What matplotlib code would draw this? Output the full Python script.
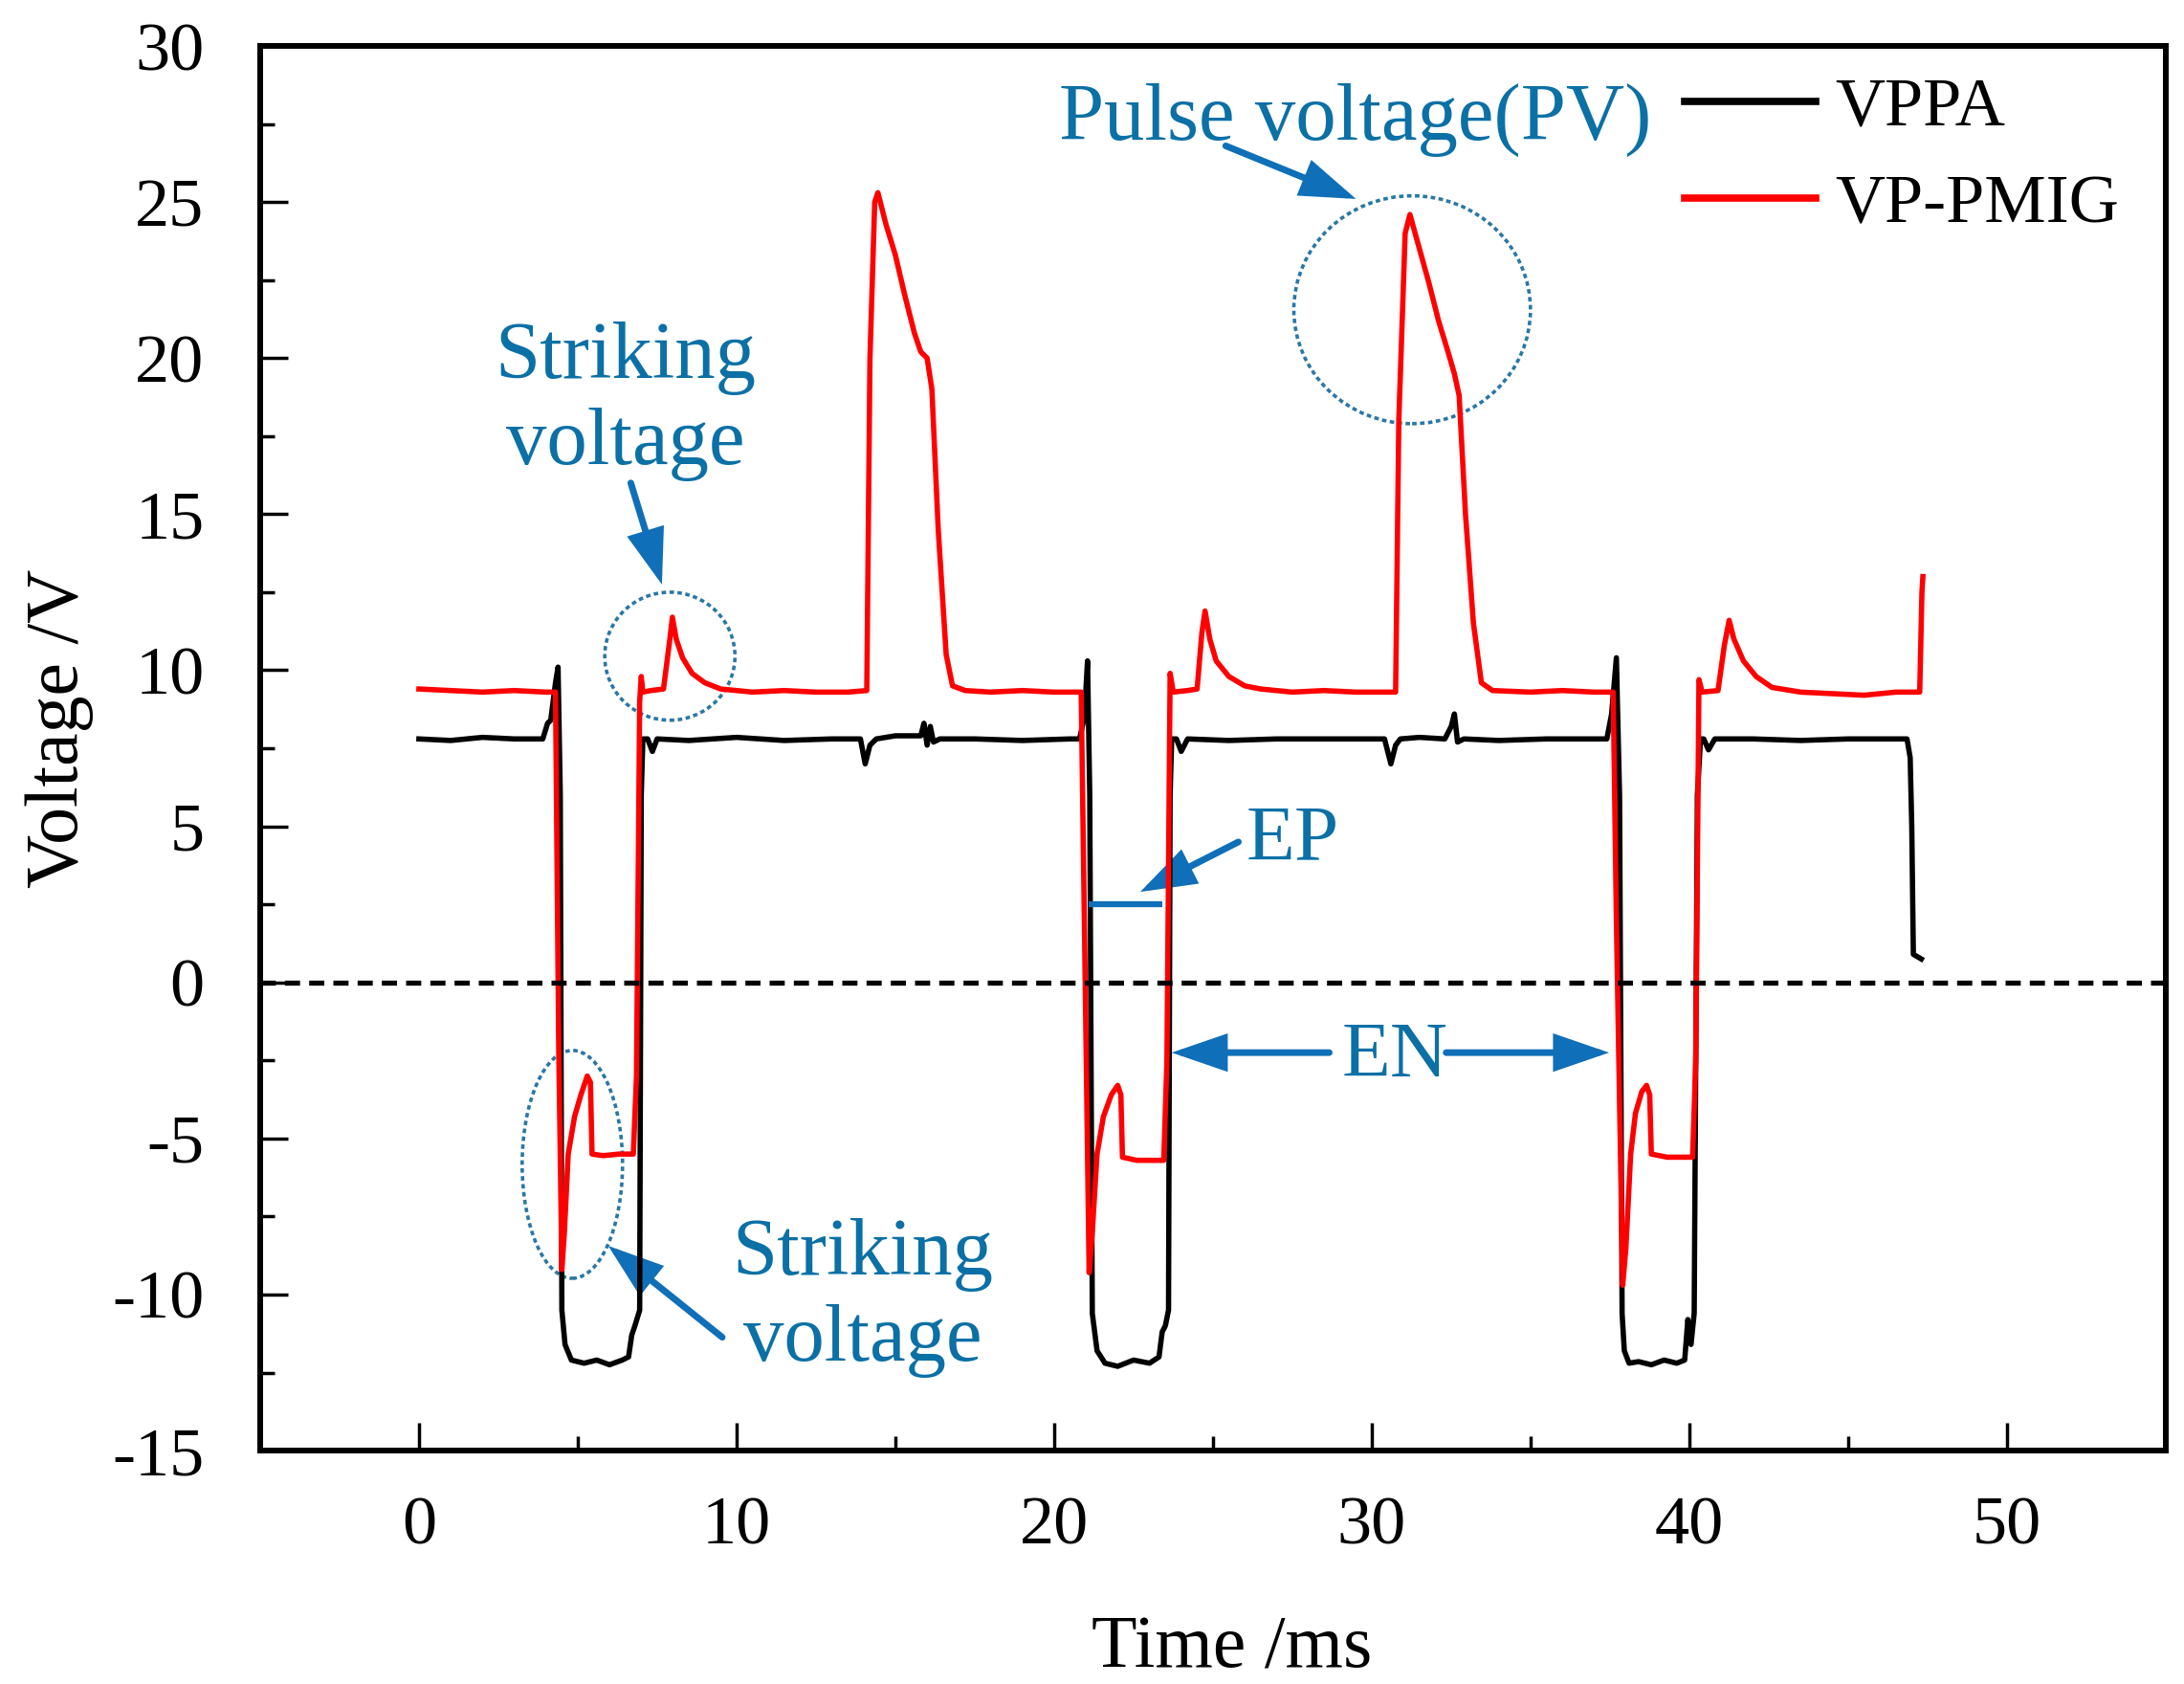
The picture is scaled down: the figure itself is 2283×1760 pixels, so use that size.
import matplotlib
matplotlib.use("Agg")
import matplotlib.pyplot as plt
from matplotlib.patches import Ellipse, FancyArrowPatch
from matplotlib.ticker import MultipleLocator

plt.rcParams['font.family'] = ['Liberation Serif', 'DejaVu Serif']
plt.rcParams['axes.unicode_minus'] = False

# ---------------- data ----------------
t_vppa = [0, 1.0, 2.0, 3.0, 3.9, 4.05, 4.15, 4.3, 4.38, 4.45, 4.5, 4.6, 4.8, 5.2, 5.6, 6.0, 6.4,
          6.6, 6.7, 6.8, 6.95, 7.0, 7.05, 7.2, 7.35, 7.5, 8.5, 10, 11.5, 13, 13.9, 14.05, 14.2,
          14.4, 15.0, 15.8, 15.9, 16.0, 16.1, 16.2, 16.4, 17.5, 19, 20.5, 20.8, 20.95, 21.05,
          21.12, 21.2, 21.35, 21.6, 22, 22.5, 23, 23.3, 23.4, 23.5, 23.6, 23.65, 23.7, 23.85,
          24.0, 24.2, 25.5, 27, 28.5, 30.4, 30.6, 30.75, 30.9, 31.5, 32.3, 32.5, 32.6, 32.7,
          32.9, 34, 35.5, 37, 37.4, 37.55, 37.7, 37.8, 37.88, 37.95, 38.1, 38.4, 38.8, 39.2,
          39.6, 39.85, 39.95, 40.05, 40.15, 40.25, 40.35, 40.45, 40.6, 40.8, 42, 43.5, 45,
          46.5, 46.85, 46.95, 47.0, 47.05, 47.3]
v_vppa = [7.8, 7.75, 7.85, 7.8, 7.8, 8.3, 8.4, 9.6, 10.1, 6.0, -10.5, -11.6, -12.1, -12.2, -12.1,
          -12.25, -12.1, -12.0, -11.3, -11.0, -10.5, 6.0, 7.8, 7.8, 7.4, 7.8, 7.75, 7.85, 7.75,
          7.8, 7.8, 7.0, 7.6, 7.8, 7.9, 7.9, 8.3, 7.6, 8.2, 7.7, 7.8, 7.8, 7.75, 7.8, 7.8, 8.5,
          10.3, 6.0, -10.6, -11.8, -12.2, -12.3, -12.1, -12.2, -12.0, -11.2, -11.0, -10.5, 6.0,
          7.8, 7.8, 7.4, 7.8, 7.75, 7.8, 7.8, 7.8, 7.0, 7.6, 7.8, 7.85, 7.8, 8.2, 8.6, 7.7, 7.8,
          7.75, 7.8, 7.8, 7.8, 8.6, 10.4, 6.0, -10.6, -11.8, -12.2, -12.15, -12.25, -12.1,
          -12.2, -12.1, -10.8, -11.6, -10.6, 6.0, 7.8, 7.8, 7.45, 7.8, 7.8, 7.75, 7.8, 7.8,
          7.8, 7.2, 5.0, 0.9, 0.75]

t_pmig = [0, 1, 2, 3, 4.0, 4.3, 4.4, 4.5, 4.58, 4.7, 4.9, 5.1, 5.3, 5.4, 5.45, 5.8, 6.3, 6.75,
          6.85, 6.95, 7.0, 7.05, 7.3, 7.7, 7.9, 7.98, 8.1, 8.3, 8.6, 9.0, 9.5, 10.5, 11.5, 12.5,
          13.5, 14.1, 14.2, 14.35, 14.45, 14.7, 15.0, 15.3, 15.6, 15.8, 16.0, 16.15, 16.35, 16.6,
          16.8, 17.2, 18, 19, 20, 20.85, 20.95, 21.1, 21.2, 21.35, 21.55, 21.8, 22.0, 22.1, 22.15,
          22.6, 23.1, 23.45, 23.55, 23.65, 23.75, 24.2, 24.5, 24.65, 24.75, 24.9, 25.1, 25.5,
          26.0, 26.5, 27.5, 28.5, 29.5, 30.75, 30.85, 31.05, 31.2, 31.5, 31.8, 32.1, 32.4, 32.6,
          32.75, 32.95, 33.2, 33.45, 33.8, 35, 36, 37, 37.6, 37.7, 37.9, 38.0, 38.15, 38.3,
          38.5, 38.65, 38.75, 38.8, 39.3, 39.8, 40.1, 40.2, 40.3, 40.4, 40.9, 41.1, 41.25, 41.4,
          41.7, 42.1, 42.6, 43.5, 44.5, 45.5, 46.5, 47.25, 47.32, 47.35]
v_pmig = [9.4, 9.35, 9.3, 9.35, 9.3, 9.3, -2.0, -9.2, -8.0, -5.5, -4.3, -3.6, -3.0, -3.2, -5.5,
          -5.55, -5.5, -5.5, -3.0, 9.0, 9.8, 9.3, 9.35, 9.4, 11.0, 11.7, 11.0, 10.4, 9.9, 9.6,
          9.4, 9.3, 9.35, 9.3, 9.3, 9.35, 20.0, 25.0, 25.3, 24.3, 23.3, 22.0, 20.8, 20.2, 20.0,
          19.0, 14.5, 10.5, 9.5, 9.35, 9.3, 9.35, 9.3, 9.3, 2.0, -9.3, -8.0, -5.5, -4.3, -3.6,
          -3.3, -3.6, -5.6, -5.7, -5.7, -5.7, -2.5, 9.9, 9.3, 9.35, 9.4, 11.2, 11.9, 11.0, 10.3,
          9.8, 9.5, 9.4, 9.3, 9.35, 9.3, 9.3, 18.0, 24.0, 24.6, 23.5, 22.4, 21.2, 20.2, 19.5,
          18.8, 15.0, 11.5, 9.6, 9.35, 9.3, 9.35, 9.3, 9.3, 2.0, -9.7, -8.5, -5.5, -4.2, -3.5,
          -3.3, -3.6, -5.5, -5.6, -5.6, -5.6, -2.5, 9.7, 9.3, 9.35, 10.8, 11.6, 11.0, 10.3, 9.8,
          9.45, 9.3, 9.25, 9.2, 9.3, 9.3, 12.5, 13.0]

series_labels = ["VPPA", "VP-PMIG"]
x_ticks = [0, 10, 20, 30, 40, 50]
y_ticks = [-15, -10, -5, 0, 5, 10, 15, 20, 25, 30]

BLUE_TXT = '#0b70a6'
BLUE_ARR = '#0f6fb8'
BLUE_CIRC = '#2a77a6'

# ---------------- figure ----------------
fig = plt.figure(figsize=(22.83, 17.60), dpi=100)
ax = fig.add_axes([0.1191, 0.1386, 0.8726, 0.8341])

ax.plot(t_vppa, v_vppa, color='black', lw=4.0, label=series_labels[0], solid_joinstyle='round')
ax.plot(t_pmig, v_pmig, color='#ff0000', lw=4.0, label=series_labels[1], solid_joinstyle='round')
ax.axhline(0, color='black', lw=3.8, ls=(0, (3.0, 1.8)))

ax.set_xlim(-5, 55)
ax.set_ylim(-15, 30)
ax.set_xticks(x_ticks)
ax.set_yticks(y_ticks)
ax.xaxis.set_minor_locator(MultipleLocator(5))
ax.yaxis.set_minor_locator(MultipleLocator(2.5))
ax.tick_params(which='both', direction='in', top=False, right=False)
ax.tick_params(which='major', length=21, width=2.5, labelsize=52)
ax.tick_params(which='minor', length=11, width=2.5)
ax.tick_params(axis='y', which='major', pad=42)
ax.tick_params(axis='x', which='major', pad=34)
for sp in ax.spines.values():
    sp.set_linewidth(4.3)

ax.set_xlabel("Time /ms", fontsize=56)
ax.xaxis.set_label_coords(0.51, -0.154)
ax.xaxis.label.set_va('baseline')
ax.set_ylabel("Voltage /V", fontsize=56)
ax.yaxis.set_label_coords(-0.1054, 0.514)
ax.yaxis.label.set_va('center')

leg = ax.legend(loc='upper left', bbox_to_anchor=(0.7475, 0.978), frameon=False,
                fontsize=52, handlelength=1.9, handletextpad=0.28, labelspacing=0.50,
                borderpad=0, borderaxespad=0)
for h in leg.get_lines():
    h.set_linewidth(5.5)

# ---------------- annotations ----------------
def arrow(x0, y0, x1, y1):
    a = FancyArrowPatch((x0, y0), (x1, y1), arrowstyle='-|>,head_length=32,head_width=11',
                        mutation_scale=1, lw=5, color=BLUE_ARR, shrinkA=0, shrinkB=0,
                        joinstyle='miter')
    ax.add_patch(a)

def ring(xc, yc, w, h):
    ax.add_patch(Ellipse((xc, yc), w, h, fill=False, ec=BLUE_CIRC, lw=2.6,
                         ls=(0, (1.3, 1.0))))

# Pulse voltage
ax.text(29.48, 27.0, "Pulse voltage(PV)", color=BLUE_TXT, fontsize=61, ha='center', va='baseline')
arrow(25.4, 26.8, 29.5, 25.1)
ring(31.27, 21.55, 7.45, 7.3)

# Striking voltage (upper)
ax.text(6.5, 18.6, "Striking\nvoltage", color=BLUE_TXT, fontsize=61, ha='center', va='center',
        ma='center', linespacing=1.22)
arrow(6.67, 16.0, 7.65, 12.75)
ring(7.9, 10.45, 4.1, 4.1)

# Striking voltage (lower)
ax.text(13.96, -10.1, "Striking\nvoltage", color=BLUE_TXT, fontsize=61, ha='center', va='center',
        ma='center', linespacing=1.22)
arrow(9.55, -11.37, 5.96, -8.44)
ring(4.83, -5.83, 3.16, 7.3)

# EP
ax.text(27.5, 3.95, "EP", color=BLUE_TXT, fontsize=60, ha='center', va='baseline')
arrow(25.8, 4.5, 22.71, 2.9)
ax.plot([21.1, 23.4], [2.5, 2.5], color=BLUE_ARR, lw=4.5, solid_capstyle='butt')

# EN
ax.text(30.74, -3.0, "EN", color=BLUE_TXT, fontsize=60, ha='center', va='baseline')
arrow(28.66, -2.25, 23.7, -2.25)
arrow(32.34, -2.25, 37.47, -2.25)

fig.savefig("out.png", dpi=100)
